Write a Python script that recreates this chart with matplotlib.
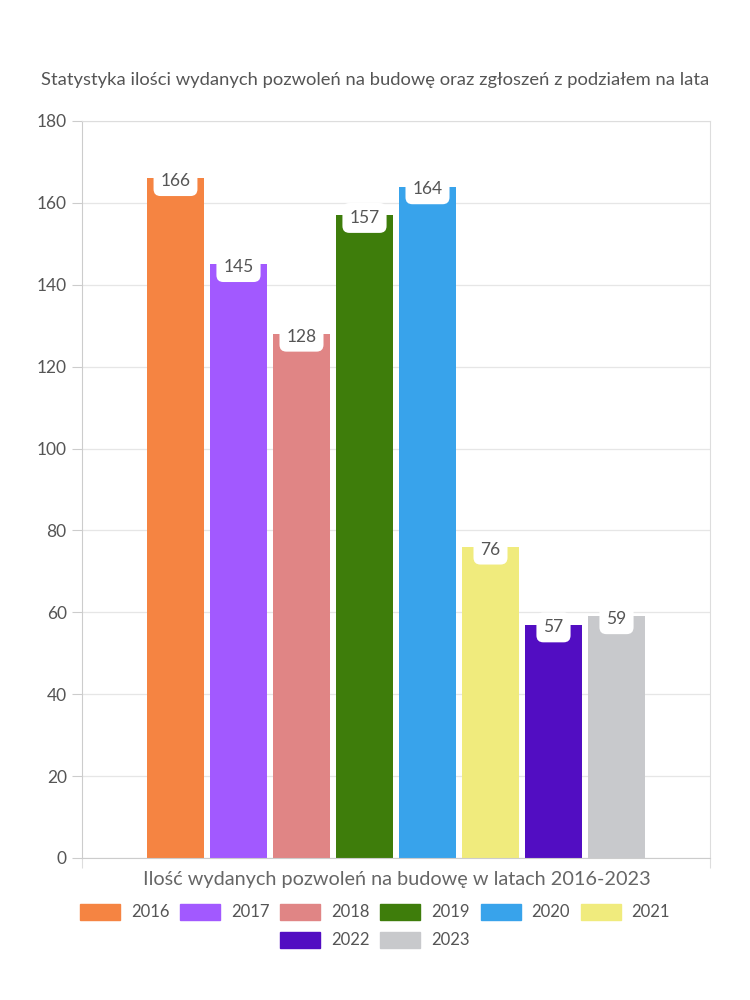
import matplotlib.pyplot as plt
import matplotlib.patches as mpatches

years = ["2016", "2017", "2018", "2019", "2020", "2021", "2022", "2023"]
counts = [166, 145, 128, 157, 164, 76, 57, 59]
colors = ["#F58442", "#A259FF", "#E08585", "#3E7D0B",
          "#38A3EB", "#F0EB7D", "#520DC2", "#C8C9CC"]

plt.rcParams['font.family'] = ['Lato', 'DejaVu Sans']

fig = plt.figure(figsize=(7.5, 10), dpi=100)
ax = fig.add_axes([82/750, 1 - 858/1000, 628/750, 737/1000])

w = 0.905
for i, (yr, v, c) in enumerate(zip(years, counts, colors)):
    ax.bar(i, v, width=w, color=c, label=yr, zorder=2)
    ax.annotate(str(v), (i, v), xytext=(0, -2), textcoords="offset points",
                ha="center", va="center", fontsize=12.5, color="#555555",
                bbox=dict(boxstyle="round,pad=0.4", fc="white", ec="none"),
                zorder=3)

ax.set_xlim(-1.484, 8.484)
ax.set_ylim(0, 180)
ax.set_yticks(range(0, 181, 20))
ax.set_xticks([-1.484, 8.484])
ax.set_xticklabels(["", ""])
ax.grid(axis="y", color="#E6E6E6", linewidth=0.9, zorder=0)
for s in ax.spines.values():
    s.set_color("#DDDDDD")
ax.spines["left"].set_color("#CCCCCC")
ax.spines["bottom"].set_color("#CCCCCC")
ax.tick_params(axis="y", length=7, color="#CCCCCC", labelsize=12.5,
               labelcolor="#555555", pad=4)
ax.tick_params(axis="x", length=7, color="#DDDDDD")

fig.text(375/750, 1 - 80/1000, "Statystyka ilości wydanych pozwoleń na budowę oraz zgłoszeń z podziałem na lata",
         ha="center", va="center", fontsize=13.2, color="#555555")
fig.text(397/750, 1 - 880/1000, "Ilość wydanych pozwoleń na budowę w latach 2016-2023",
         ha="center", va="center", fontsize=14.3, color="#666666")

handles = [mpatches.Patch(color=c, label=y) for y, c in zip(years, colors)]
legkw = dict(frameon=False, fontsize=12, handlelength=2.4, handleheight=1.1,
             columnspacing=0.65, handletextpad=0.65, labelcolor="#555555")
leg1 = fig.legend(handles=handles[:6], loc="center", bbox_to_anchor=(375/750, 1 - 912/1000),
                  ncol=6, **legkw)
leg2 = fig.legend(handles=handles[6:], loc="center", bbox_to_anchor=(375/750, 1 - 940/1000),
                  ncol=2, **legkw)

fig.savefig("out.png", dpi=100)
